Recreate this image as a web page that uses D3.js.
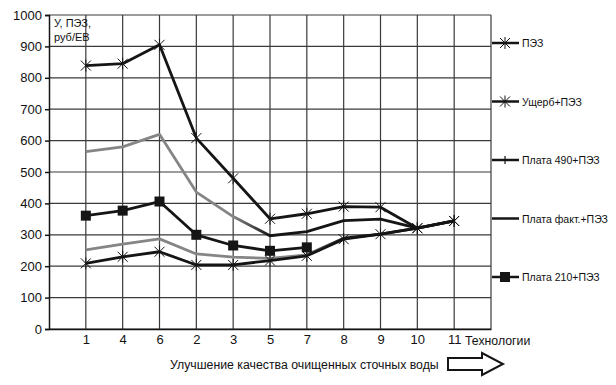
<!DOCTYPE html>
<html>
<head>
<meta charset="utf-8">
<script src="https://cdn.jsdelivr.net/npm/d3@7"></script>
<style>
    body { margin: 0; background: #fff; }
    svg { font-family: 'Liberation Sans', Arial, sans-serif; }
</style>
</head>
<body>
<svg id="chart_svg" width="616" height="385"></svg>
<script>
// technologies, in the order shown on the x axis
const categories = ['1', '4', '6', '2', '3', '5', '7', '8', '9', '10', '11'];
const yTicks = [0, 100, 200, 300, 400, 500, 600, 700, 800, 900, 1000];

const pez = [209, 230, 246, 204, 204, 218, 233, 286, 302, 321, 344];
const usherbPez = [839, 845, 905, 608, 480, 351, 367, 390, 388, 321, 344];
const plata490Pez = [565, 580, 620, 436, 358, 297, 310, 345, 350, 321, null];
const plataFactPez = [252, 270, 287, 239, 229, 225, 236, 289, 302, 321, 344];
const plata210Pez = [361, 377, 406, 300, 266, 249, 260, null, null, null, null];

const seriesNames = ['ПЭЗ', 'Ущерб+ПЭЗ', 'Плата 490+ПЭЗ', 'Плата факт.+ПЭЗ', 'Плата 210+ПЭЗ'];

const colors = {
    black: '#151515',
    gray: '#858585',
    grid: '#3a3a3a'
}

const series = [
    {name: seriesNames[3], values: plataFactPez, color: 'gray', marker: 'none'},
    {name: seriesNames[2], values: plata490Pez, color: 'gray490', marker: 'tick'},
    {name: seriesNames[4], values: plata210Pez, color: colors.black, marker: 'square'},
    {name: seriesNames[0], values: pez, color: colors.black, marker: 'star'},
    {name: seriesNames[1], values: usherbPez, color: colors.black, marker: 'star'},
];

const svg = d3.select('#chart_svg');
svg.append('rect').attr('width', 616).attr('height', 385).attr('fill', '#fff');

const margin = {top: 15, left: 49, right: 491, bottom: 329};

const xScale = d3.scalePoint()
    .domain(['start', ...categories, 'end'])
    .range([margin.left, margin.right]);

const yScale = d3.scaleLinear()
    .domain([0, 1000])
    .range([margin.bottom, margin.top]);

// gray -> black gradients (lines turn dark further right)
const defs = svg.append('defs');
function addGradient(id, fromCat, toCat) {
    const g = defs.append('linearGradient')
        .attr('id', id)
        .attr('gradientUnits', 'userSpaceOnUse')
        .attr('x1', xScale(fromCat)).attr('x2', xScale(toCat))
        .attr('y1', 0).attr('y2', 0);
    g.append('stop').attr('offset', 0).attr('stop-color', colors.gray);
    g.append('stop').attr('offset', 1).attr('stop-color', colors.black);
}
addGradient('grad490', '3', '5');
addGradient('gradFact', '7', '8');
const colorOf = {gray490: 'url(#grad490)', gray: 'url(#gradFact)'};

// grid
const gridG = svg.append('g');
gridG.selectAll('.hgrid')
    .data(yTicks)
    .enter()
    .append('line')
    .attr('x1', margin.left).attr('x2', margin.right)
    .attr('y1', d => yScale(d)).attr('y2', d => yScale(d))
    .attr('stroke', colors.grid)
    .attr('stroke-width', 1.2);

gridG.selectAll('.vgrid')
    .data([...categories, 'end'])
    .enter()
    .append('line')
    .attr('x1', d => xScale(d)).attr('x2', d => xScale(d))
    .attr('y1', margin.top).attr('y2', margin.bottom)
    .attr('stroke', colors.grid)
    .attr('stroke-width', 1.2);

// axes
const yAxis = d3.axisLeft(yScale)
    .tickValues(yTicks)
    .tickFormat(d3.format('d'))
    .tickSize(4)
    .tickPadding(3);
const yAxisG = svg.append('g')
    .attr('transform', `translate(${margin.left}, 0)`)
    .call(yAxis);
yAxisG.select('.domain').attr('stroke', colors.black).attr('stroke-width', 1.5);
yAxisG.selectAll('.tick line').attr('stroke', colors.black).attr('stroke-width', 1.5);
yAxisG.selectAll('text').style('font-size', '13px').attr('fill', '#111');

const xAxis = d3.axisBottom(xScale).tickValues(categories).tickSize(0).tickPadding(6);
const xAxisG = svg.append('g')
    .attr('transform', `translate(0, ${margin.bottom})`)
    .call(xAxis);
xAxisG.select('.domain').attr('stroke', colors.black).attr('stroke-width', 1.5);
xAxisG.selectAll('text').style('font-size', '13px').attr('fill', '#111');

svg.append('text')
    .attr('x', 465)
    .attr('y', 345)
    .style('font-size', '12.3px')
    .attr('fill', '#111')
    .text('Технологии');

// y label
svg.append('text')
    .attr('x', 54).attr('y', 27)
    .style('font-size', '11px')
    .attr('fill', '#111')
    .text('У, ПЭЗ,');
svg.append('text')
    .attr('x', 54).attr('y', 41)
    .style('font-size', '11px')
    .attr('fill', '#111')
    .text('руб/ЕВ');

// lines
const line = d3.line()
    .defined(d => d.v != null)
    .x(d => xScale(d.c))
    .y(d => yScale(d.v));

function drawMarker(g, type, x, y, color) {
    if (type === 'star') {
        const s = 5;
        g.append('path')
            .attr('d', `M${x - s},${y - s}L${x + s},${y + s}M${x - s},${y + s}L${x + s},${y - s}M${x},${y - s - 1}L${x},${y + s + 1}`)
            .attr('stroke', color)
            .attr('stroke-width', 1)
            .attr('fill', 'none');
    } else if (type === 'square') {
        g.append('rect')
            .attr('x', x - 5).attr('y', y - 5)
            .attr('width', 10).attr('height', 10)
            .attr('fill', color);
    } else if (type === 'tick') {
        g.append('path')
            .attr('d', `M${x},${y - 4}L${x},${y + 4}`)
            .attr('stroke', color)
            .attr('stroke-width', 1.2);
    }
}

const linesG = svg.append('g');
series.forEach(function (s) {
    const pts = categories.map((c, i) => ({c: c, v: s.values[i]}));
    const stroke = colorOf[s.color] || s.color;
    linesG.append('path')
        .datum(pts)
        .attr('d', line)
        .attr('fill', 'none')
        .attr('stroke', stroke)
        .attr('stroke-width', 2.8)
        .attr('stroke-linejoin', 'round');
    pts.filter(d => d.v != null).forEach(function (d) {
        if (s.marker === 'tick') return;
        drawMarker(linesG, s.marker, xScale(d.c), yScale(d.v), colors.black);
    });
});

// legend
const legendY = d3.scalePoint()
    .domain(seriesNames)
    .range([43, 277]);
const legendMarkers = ['star', 'star', 'tick', 'none', 'square'];

const legendG = svg.append('g');
seriesNames.forEach(function (name, i) {
    const y = legendY(name);
    legendG.append('line')
        .attr('x1', 492).attr('x2', 519)
        .attr('y1', y).attr('y2', y)
        .attr('stroke', colors.black)
        .attr('stroke-width', 2.5);
    drawMarker(legendG, legendMarkers[i], 505, y, colors.black);
    legendG.append('text')
        .attr('x', 522).attr('y', y + 4)
        .style('font-size', '10.5px')
        .attr('fill', '#111')
        .text(name);
});

// bottom caption with arrow
svg.append('text')
    .attr('x', 170).attr('y', 369)
    .style('font-size', '12.3px')
    .attr('fill', '#111')
    .text('Улучшение качества очищенных сточных воды');

svg.append('path')
    .attr('d', 'M448,358L482,358L482,353L503,364L482,375L482,370L448,370Z')
    .attr('fill', '#fff')
    .attr('stroke', colors.black)
    .attr('stroke-width', 2);
</script>
</body>
</html>
